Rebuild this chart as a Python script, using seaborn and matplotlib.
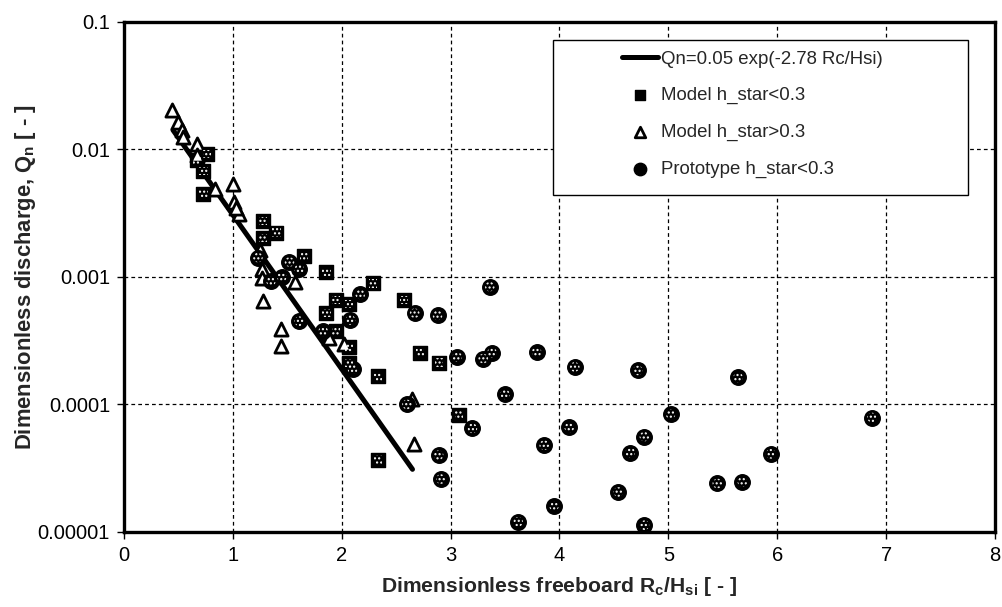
import matplotlib
matplotlib.use("Agg")
import matplotlib.pyplot as plt
import seaborn as sns
import pandas as pd
from matplotlib.patches import Rectangle
from matplotlib.ticker import FixedLocator, FixedFormatter, NullLocator

# ---------------- data ----------------
fit_label = "Qn=0.05 exp(-2.78 Rc/Hsi)"
fit_x = [0.45, 2.65]
fit_y = [0.0142, 0.000031]

sq_label = "Model h_star<0.3"
sq_x = [0.76, 0.67, 0.73, 0.73, 1.28, 1.40, 1.28, 1.65, 1.86, 2.29, 2.57, 1.95,
        2.07, 1.86, 1.95, 2.07, 2.07, 2.72, 2.89, 2.33, 3.08, 2.33]
sq_y = [0.0092, 0.0082, 0.0068, 0.0045, 0.00275, 0.00223, 0.00202, 0.00146,
        0.0011, 0.00089, 0.00066, 0.00066, 0.00061, 0.00052, 0.000375, 0.00028,
        0.00021, 0.000255, 0.000213, 0.000166, 0.000083, 0.000037]

tri_label = "Model h_star>0.3"
tri_x = [0.44, 0.50, 0.53, 0.54, 0.67, 0.67, 0.84, 1.00, 1.01, 1.06, 1.03, 1.25,
         1.27, 1.27, 1.57, 1.28, 1.44, 1.44, 1.88, 2.02, 2.65, 2.66]
tri_y = [0.0203, 0.0164, 0.0142, 0.0126, 0.0111, 0.0091, 0.0049, 0.0054, 0.0039,
         0.0031, 0.0035, 0.00164, 0.00116, 0.00099, 0.00091, 0.00065, 0.00039,
         0.00029, 0.00033, 0.0003, 0.000111, 0.000049]

pr_label = "Prototype h_star<0.3"
pr_x = [1.23, 1.52, 1.61, 1.35, 1.45, 2.17, 2.08, 1.61, 1.83, 2.10, 2.60, 2.67,
        2.88, 3.36, 3.06, 3.30, 3.38, 3.79, 4.14, 4.72, 5.64, 3.50, 3.20, 4.09,
        5.02, 4.78, 4.65, 3.86, 2.89, 2.91, 5.94, 4.54, 5.45, 5.68, 3.95, 3.62,
        4.78, 6.87]
pr_y = [0.00142, 0.00131, 0.00115, 0.00093, 0.001, 0.00073, 0.00046, 0.00045,
        0.000375, 0.000189, 0.0001, 0.00052, 0.0005, 0.00084, 0.000236, 0.000229,
        0.000255, 0.000258, 0.000197, 0.000185, 0.000163, 0.00012, 0.000065,
        0.000066, 0.000084, 0.000056, 0.000042, 0.000048, 0.00004, 0.000026,
        0.000041, 0.0000206, 0.000024, 0.0000247, 0.000016, 0.000012, 0.0000113,
        0.000079]

x_ticks = [0, 1, 2, 3, 4, 5, 6, 7, 8]
x_ticklabels = ["0", "1", "2", "3", "4", "5", "6", "7", "8"]
y_ticks = [0.00001, 0.0001, 0.001, 0.01, 0.1]
y_ticklabels = ["0.00001", "0.0001", "0.001", "0.01", "0.1"]

x_title = "Dimensionless freeboard R$_{c}$/H$_{si}$ [ - ]"
y_title = "Dimensionless discharge, Q$_{n}$ [ - ]"

# ---------------- style ----------------
sns.set_style("white")
plt.rcParams["font.family"] = ["Liberation Sans", "DejaVu Sans"]
plt.rcParams["mathtext.fontset"] = "custom"
plt.rcParams["mathtext.rm"] = "Liberation Sans:bold"
plt.rcParams["mathtext.it"] = "Liberation Sans:bold"
plt.rcParams["mathtext.bf"] = "Liberation Sans:bold"
plt.rcParams["hatch.linewidth"] = 1.0

fig = plt.figure(figsize=(10.03, 6.07), dpi=100)
ax = fig.add_axes([0.1236, 0.1236, 0.8684, 0.8402])

fit_df = pd.DataFrame({"x": fit_x, "y": fit_y})
sq_df = pd.DataFrame({"x": sq_x, "y": sq_y})
tri_df = pd.DataFrame({"x": tri_x, "y": tri_y})
pr_df = pd.DataFrame({"x": pr_x, "y": pr_y})

sns.lineplot(data=fit_df, x="x", y="y", ax=ax, color="black", linewidth=3.6,
             label=fit_label, zorder=3)

# squares: black with white dot pattern
sns.scatterplot(data=sq_df, x="x", y="y", ax=ax, marker="s", s=95,
                color="black", edgecolor="black", linewidth=1.0,
                label=sq_label, zorder=4)
ax.scatter(sq_df["x"], sq_df["y"], marker="s", s=35, facecolors="none",
           edgecolors="white", linewidths=0, hatch="....", zorder=4.1)

# triangles: white with thick black outline
sns.scatterplot(data=tri_df, x="x", y="y", ax=ax, marker="^", s=90,
                color="white", edgecolor="black", linewidth=2.0,
                label=tri_label, zorder=4)

# circles: black with white dot pattern
sns.scatterplot(data=pr_df, x="x", y="y", ax=ax, marker="o", s=125,
                color="black", edgecolor="black", linewidth=1.0,
                label=pr_label, zorder=4)
ax.scatter(pr_df["x"], pr_df["y"], marker="o", s=48, facecolors="none",
           edgecolors="white", linewidths=0, hatch="....", zorder=4.1)

ax.set_yscale("log")
ax.set_xlim(0, 8)
ax.set_ylim(0.00001, 0.1)
ax.xaxis.set_major_locator(FixedLocator(x_ticks))
ax.xaxis.set_major_formatter(FixedFormatter(x_ticklabels))
ax.yaxis.set_major_locator(FixedLocator(y_ticks))
ax.yaxis.set_major_formatter(FixedFormatter(y_ticklabels))
ax.yaxis.set_minor_locator(NullLocator())
ax.xaxis.set_minor_locator(NullLocator())

ax.grid(True, which="major", color="black", linestyle=(0, (3, 2.5)),
        linewidth=0.9)
ax.set_axisbelow(True)
for sp in ax.spines.values():
    sp.set_visible(True)
    sp.set_color("black")
    sp.set_linewidth(2.4)

ax.tick_params(axis="both", which="major", direction="out", length=5,
               width=1.0, color="black", labelsize=14.5, labelcolor="black",
               pad=5, left=True, bottom=True)

ax.set_xlabel(x_title, fontsize=15.2, fontweight="bold", labelpad=7)
ax.set_ylabel(y_title, fontsize=15.8, fontweight="bold")
ax.yaxis.set_label_coords(-0.099, 0.5)

# legend box
ax.add_patch(Rectangle((0.4925, 0.66), 0.4765, 0.305, transform=ax.transAxes,
                       facecolor="white", edgecolor="black", linewidth=1.0,
                       zorder=5))
handles, labels = ax.get_legend_handles_labels()
leg = ax.legend(handles, labels, loc="upper left",
                bbox_to_anchor=(0.572, 0.944), frameon=False, fontsize=13.4,
                handlelength=1.9, handletextpad=0.2, labelspacing=1.05,
                borderpad=0, borderaxespad=0, markerscale=0.8)
leg.set_zorder(6)

fig.savefig("out.png", dpi=100)
